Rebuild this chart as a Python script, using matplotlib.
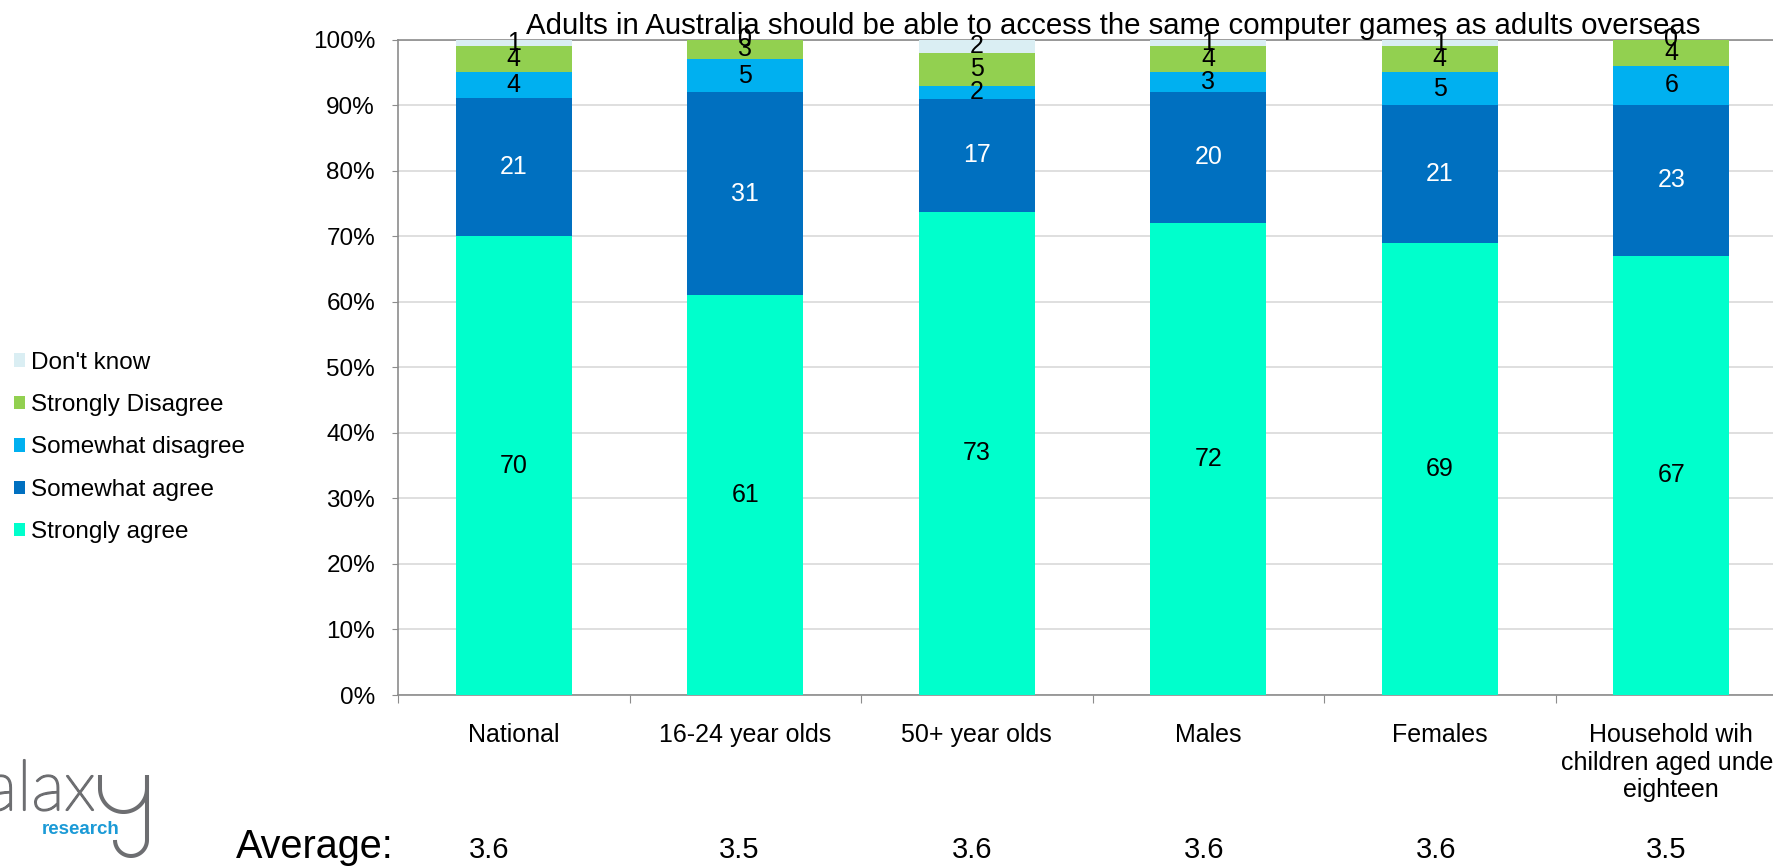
import matplotlib.pyplot as plt
import matplotlib.patheffects as pe
import numpy as np
from matplotlib.lines import Line2D
from matplotlib.patches import Patch

groups = ["National", "16-24 year olds", "50+ year olds", "Males", "Females",
          "Household wih\nchildren aged under\neighteen"]
responses = ["Strongly agree", "Somewhat agree", "Somewhat disagree",
             "Strongly Disagree", "Don't know"]
strongly_agree = [70, 61, 73, 72, 69, 67]
somewhat_agree = [21, 31, 17, 20, 21, 23]
somewhat_disagree = [4, 5, 2, 3, 5, 6]
strongly_disagree = [4, 3, 5, 4, 4, 4]
dont_know = [1, 0, 2, 1, 1, 0]
averages = [3.6, 3.5, 3.6, 3.6, 3.6, 3.5]

colors = ["#00FFCC", "#0070C0", "#00B0F0", "#92D050", "#DAEEF3"]
text_colors = ["black", "white", "black", "black", "black"]

plt.rcParams["font.family"] = ["Liberation Sans", "DejaVu Sans"]

counts = np.array([strongly_agree, somewhat_agree, somewhat_disagree,
                   strongly_disagree, dont_know], dtype=float)
shares = counts / counts.sum(axis=0)   # 100% stacked

W, H = 1773, 868


def fx(px):
    return px / W


def fy(py):
    # pixel rows are counted from the top
    return 1 - py / H


fig = plt.figure(figsize=(W / 100, H / 100), dpi=100)
ax_left, ax_w = 398, 1389
ax = fig.add_axes([fx(ax_left), fy(695), fx(ax_w), (695 - 39.5) / H])

x = np.arange(len(groups))
bottom = np.zeros(len(groups))
for i, name in enumerate(responses):
    bars = ax.bar(x, shares[i], 0.5, bottom=bottom, color=colors[i], label=name, zorder=3)
    ax.bar_label(bars, labels=[f"{v:.0f}" for v in counts[i]], label_type="center",
                 color=text_colors[i], fontsize=18, zorder=4)
    bottom += shares[i]

ax.set_xlim(-0.5, len(groups) - 0.5)
ax.set_ylim(0, 1)
ax.set_yticks(np.linspace(0, 1, 11))
ax.set_yticklabels([f"{v}%" for v in range(0, 101, 10)], fontsize=17.5)
ax.yaxis.grid(True, color="#d9d9d9", linewidth=1.2, zorder=0)
ax.tick_params(axis="y", direction="out", length=4.5, color="#8c8c8c", pad=12)

# tick marks sit on the category boundaries, labels at the centres
ax.set_xticks(np.arange(len(groups) + 1) - 0.5)
ax.set_xticklabels([])
ax.set_xticks(x, minor=True)
ax.set_xticklabels(groups, minor=True, fontsize=18, linespacing=1.2, va="top")
ax.tick_params(axis="x", which="major", direction="out", length=6, color="#8c8c8c")
ax.tick_params(axis="x", which="minor", length=0, pad=20)

for side in ["left", "bottom", "top"]:
    ax.spines[side].set_color("#8c8c8c")
    ax.spines[side].set_linewidth(1.2)
ax.spines["right"].set_visible(False)

fig.text(fx(1113), fy(34), "Adults in Australia should be able to access the same computer games as adults overseas",
         ha="center", va="baseline", fontsize=21.2)

# legend on the left, listed top-down in stack order
handles = [Patch(facecolor=c) for c in colors][::-1]
fig.legend(handles, responses[::-1], loc="center left", bbox_to_anchor=(fx(13.5), fy(447.5)),
           frameon=False, fontsize=17.5, handlelength=0.47, handleheight=0.47,
           handletextpad=0.25, labelspacing=0.84, borderpad=0, borderaxespad=0)

# averages row; the values sit a little left of the bar centres
fig.text(fx(236), fy(858), "Average:", ha="left", va="baseline", fontsize=28.5)
nudge = [-25, -6, -5, -4, -4, -5]
for xi, avg, dx in zip(x, averages, nudge):
    fig.text(fx(ax_left + (xi + 0.5) * ax_w / len(groups) + dx), fy(858), f"{avg:.1f}",
             ha="center", va="baseline", fontsize=21)

# logo, bottom-left corner
grey = "#6d6e71"
fig.text(fx(95), fy(810), "galax", ha="right", va="baseline", fontsize=50,
         family=["Lato", "DejaVu Sans"], fontweight="light", color=grey,
         path_effects=[pe.withStroke(linewidth=1.5, foreground=grey)])

arc = np.linspace(np.pi, 2 * np.pi, 40)
bowl_x = 123.5 + 23.5 * np.cos(arc)
bowl_y = 788.5 - 23.5 * np.sin(arc)
hook = np.linspace(0, np.pi, 40)
hook_x = 131 + 16 * np.cos(hook)
hook_y = 840 + 16 * np.sin(hook)
y_x = np.concatenate([[100], bowl_x, [147]])
y_y = np.concatenate([[775], bowl_y, [775]])
stroke = dict(color=grey, lw=2.9, solid_capstyle="butt", transform=fig.transFigure)
fig.add_artist(Line2D(fx(y_x), fy(y_y), **stroke))
fig.add_artist(Line2D(fx(np.concatenate([[147, 147], hook_x])),
                      fy(np.concatenate([[775, 840], hook_y])), **stroke))
fig.text(fx(42), fy(830), "research", ha="left", va="center", fontsize=13.5,
         fontweight="bold", color="#1b9ad6")

fig.savefig("out.png", dpi=100)
